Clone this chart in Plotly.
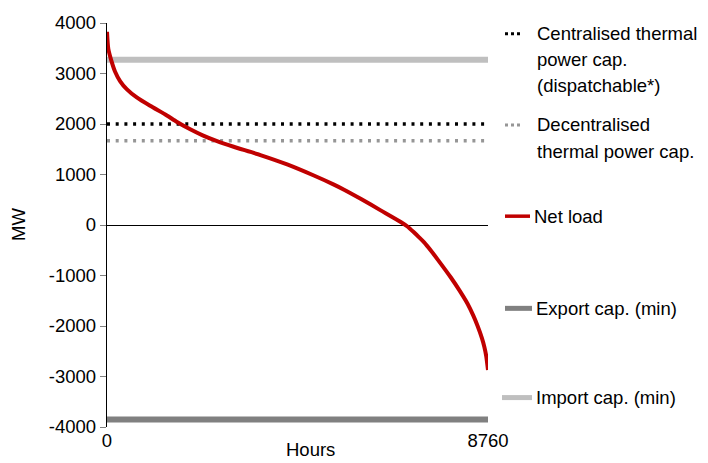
import plotly.graph_objects as go

# ---- data ----
hours = [0, 30, 107, 184, 300, 453, 684, 991, 1376, 1600, 1913, 2200, 2530, 2912, 3527,
         4141, 4756, 5217, 5450, 5832, 6293, 6754, 6908, 7050, 7176, 7292, 7450, 7600, 7906,
         8100, 8290, 8420, 8521, 8620, 8675, 8720, 8760]
net_load = [3825, 3490, 3235, 3040, 2850, 2690, 2525, 2360, 2170, 2045, 1895, 1775, 1660, 1550,
            1385, 1200, 980, 800, 700, 520, 290, 60, -30, -140, -245, -345, -510, -680, -1040,
            -1290, -1560, -1790, -2000, -2240, -2410, -2600, -2870]
span = [0, 8760]
central_cap = 2000
decentral_cap = 1670
export_cap = -3850
import_cap = 3270
y_ticks = [-4000, -3000, -2000, -1000, 0, 1000, 2000, 3000, 4000]
y_labels = ["-4000", "-3000", "-2000", "-1000", "0", "1000", "2000", "3000", "4000"]
x_ticks = [0, 8760]

FONT = "Liberation Sans, Arial, sans-serif"
FS = 18.5

fig = go.Figure()
fig.add_trace(go.Scatter(x=span, y=[import_cap] * 2, mode="lines",
                         line=dict(color="#BFBFBF", width=6), name="Import cap. (min)"))
fig.add_trace(go.Scatter(x=span, y=[export_cap] * 2, mode="lines",
                         line=dict(color="#808080", width=6), name="Export cap. (min)"))
fig.add_trace(go.Scatter(x=span, y=[central_cap] * 2, mode="lines",
                         line=dict(color="#000000", width=3.5, dash="3px,5.7px"),
                         name="Centralised thermal power cap."))
fig.add_trace(go.Scatter(x=span, y=[decentral_cap] * 2, mode="lines",
                         line=dict(color="#969696", width=3.5, dash="3px,5.7px"),
                         name="Decentralised thermal power cap."))
fig.add_trace(go.Scatter(x=hours, y=net_load, mode="lines", line_shape="spline",
                         line=dict(color="#C00000", width=4, smoothing=0.6), name="Net load"))

L, R, T, B = 107, 488, 16, 428
W, H = 708, 463


def px(x):
    return (x - L) / (R - L)


def py(y):
    return (B - y) / (B - T)


shapes = []
annotations = []
# legend symbols
shapes.append(dict(type="line", xref="paper", yref="paper", x0=px(505), x1=px(522), y0=py(27), y1=py(27),
                   line=dict(color="black", width=3, dash="3px,3px")))
shapes.append(dict(type="line", xref="paper", yref="paper", x0=px(505), x1=px(522), y0=py(120), y1=py(120),
                   line=dict(color="#969696", width=3, dash="3px,3px")))
shapes.append(dict(type="line", xref="paper", yref="paper", x0=px(505), x1=px(530), y0=py(213), y1=py(213),
                   line=dict(color="#C00000", width=3.5)))
shapes.append(dict(type="line", xref="paper", yref="paper", x0=px(505), x1=px(532), y0=py(307), y1=py(307),
                   line=dict(color="#808080", width=5)))
shapes.append(dict(type="line", xref="paper", yref="paper", x0=px(502), x1=px(532), y0=py(398), y1=py(398),
                   line=dict(color="#BFBFBF", width=5)))

legend_lines = [
    ("Centralised thermal", 535, 27), ("power cap.", 535, 53), ("(dispatchable*)", 535, 80),
    ("Decentralised", 535, 120), ("thermal power cap.", 535, 147),
    ("Net load", 532, 213),
    ("Export cap. (min)", 534, 307),
    ("Import cap. (min)", 534, 398),
]
for txt, x, y in legend_lines:
    annotations.append(dict(text=txt, xref="paper", yref="paper", x=px(x), y=py(y),
                            xanchor="left", yanchor="middle", showarrow=False,
                            font=dict(family=FONT, size=FS, color="black")))

annotations.append(dict(text="Hours", xref="paper", yref="paper", x=px(310), y=py(451),
                        xanchor="center", yanchor="middle", showarrow=False,
                        font=dict(family=FONT, size=FS, color="black")))
annotations.append(dict(text="MW", xref="paper", yref="paper", x=px(18), y=py(222),
                        xanchor="center", yanchor="middle", showarrow=False, textangle=-90,
                        font=dict(family=FONT, size=FS, color="black")))

fig.update_layout(
    width=W, height=H,
    margin=dict(l=L, r=W - R, t=T, b=H - B),
    paper_bgcolor="white", plot_bgcolor="white",
    showlegend=False,
    font=dict(family=FONT, size=FS, color="black"),
    shapes=shapes, annotations=annotations,
    xaxis=dict(range=[0, 8760], tickvals=x_ticks, ticktext=[str(v) for v in x_ticks],
               showgrid=False, zeroline=False, showline=False, ticks="",
               ticklabelstandoff=0,
               tickfont=dict(family=FONT, size=FS, color="black")),
    yaxis=dict(range=[-4000, 4000], tickvals=y_ticks, ticktext=y_labels, showgrid=False,
               zeroline=True, zerolinecolor="black", zerolinewidth=1.3,
               showline=True, linecolor="black", linewidth=1.3,
               ticks="outside", ticklen=6, tickcolor="#808080", tickwidth=1.3,
               tickfont=dict(family=FONT, size=FS, color="black")),
)

fig.write_html("out.html", config={"displayModeBar": False},
               post_script="document.body.style.margin='0';document.body.style.padding='0';"
                           "document.body.style.overflow='hidden';")
